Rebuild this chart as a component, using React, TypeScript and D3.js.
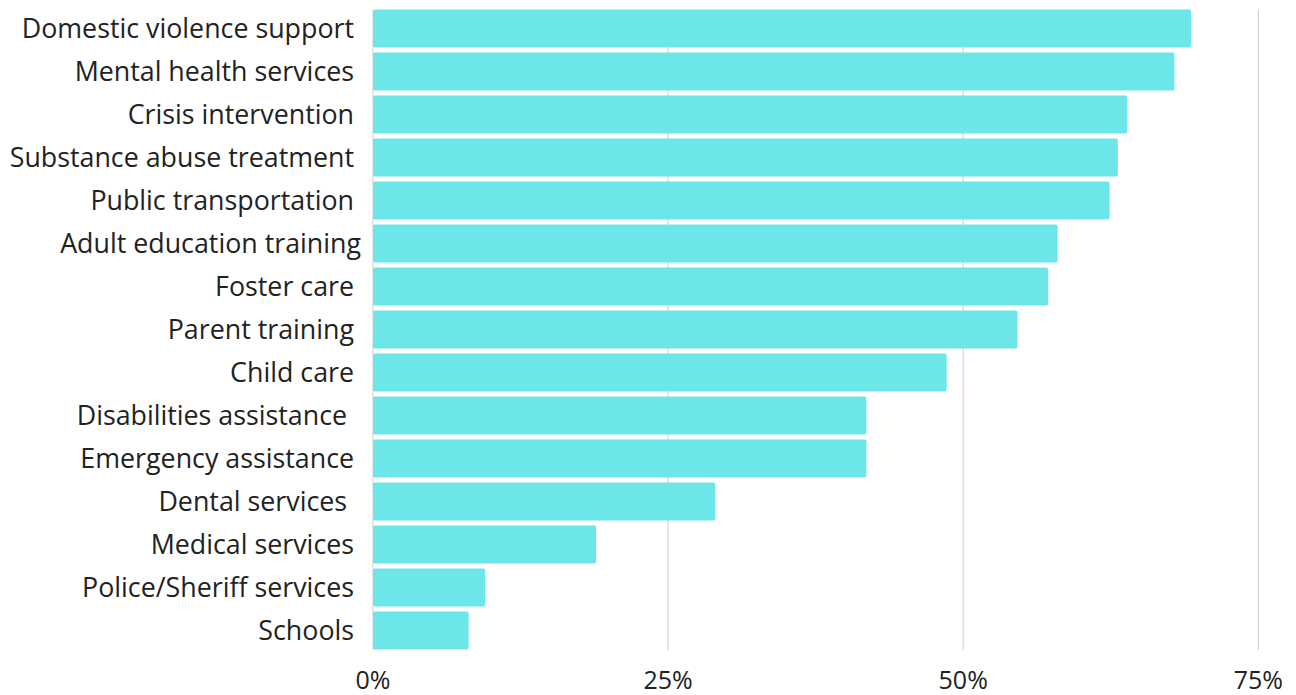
import React from "react";
import * as d3 from "d3";

const categories: string[] = [
  "Domestic violence support ",
  "Mental health services ",
  "Crisis intervention ",
  "Substance abuse treatment ",
  "Public transportation ",
  "Adult education training",
  "Foster care ",
  "Parent training ",
  "Child care ",
  "Disabilities assistance  ",
  "Emergency assistance ",
  "Dental services  ",
  "Medical services ",
  "Police/Sheriff services ",
  "Schools ",
];

const values: number[] = [
  69.3, 67.9, 63.9, 63.1, 62.4, 58.0, 57.2, 54.6, 48.6, 41.8, 41.8, 29.0, 18.9, 9.5, 8.1,
];

const tickValues: number[] = [0, 25, 50, 75];
const tickLabels: string[] = ["0%", "25%", "50%", "75%"];

const W = 1296;
const H = 695;
const FONT = "'Open Sans', Lato, sans-serif";

export default function App() {
  const x = d3.scaleLinear().domain([0, 75]).range([373, 1258.3]);
  const y = d3
    .scaleBand<string>()
    .domain(categories)
    .range([7, 652])
    .paddingInner(0.116)
    .paddingOuter(0.058);

  const gridTop = 9.5;
  const gridBottom = 650;

  return (
    <svg
      width={W}
      height={H}
      style={{ position: "absolute", left: 0, top: 0, background: "#fff" }}
    >
      {tickValues.map((t) => (
        <line
          key={"g" + t}
          x1={x(t)}
          x2={x(t)}
          y1={gridTop}
          y2={gridBottom}
          stroke="#cccccc"
          strokeWidth={1}
        />
      ))}
      {categories.map((c, i) => (
        <rect
          key={"b" + i}
          x={x(0)}
          y={y(c)!}
          width={x(values[i]) - x(0)}
          height={y.bandwidth()}
          rx={2}
          ry={2}
          fill="#6ce6e9"
        />
      ))}
      {categories.map((c, i) => (
        <text
          key={"l" + i}
          x={361}
          y={y(c)! + y.bandwidth() / 2 + 9.5}
          textAnchor="end"
          fontFamily={FONT}
          fontSize={26.8}
          fill="#222"
          style={{ whiteSpace: "pre", fontVariantLigatures: "none" }}
        >
          {c}
        </text>
      ))}
      {tickValues.map((t, i) => (
        <text
          key={"t" + t}
          x={x(t)}
          y={689}
          textAnchor="middle"
          fontFamily={FONT}
          fontSize={25}
          fill="#222"
        >
          {tickLabels[i]}
        </text>
      ))}
    </svg>
  );
}
